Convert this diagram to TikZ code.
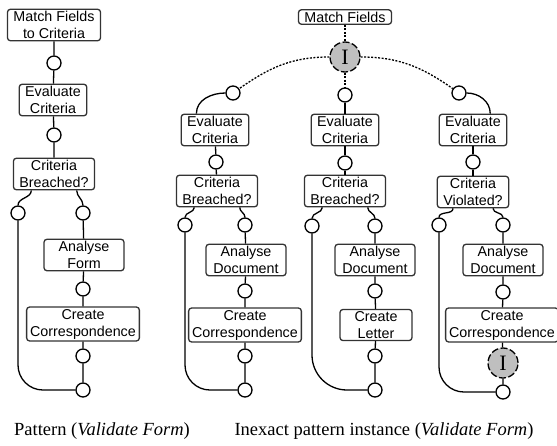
\documentclass[tikz,border=0pt]{standalone}
\usepackage{fontspec}
\setmainfont{Liberation Sans}
\newfontfamily\capfont{Liberation Serif}
\usepackage{tikz}
\usetikzlibrary{calc}

\begin{document}
\begin{tikzpicture}[x=1pt,y=1pt,
  task/.style={draw=black!80, line width=1.3pt, rounded corners=3pt, fill=white, align=center,
    inner xsep=6pt, inner ysep=2pt, font=\fontsize{14.3}{17}\selectfont},
  port/.style={circle, draw, line width=1.3pt, fill=white, minimum size=14pt, inner sep=0pt},
  inst/.style={circle, draw, line width=1.3pt, dash pattern=on 7pt off 2.5pt, fill=black!25,
    minimum size=30pt, inner sep=0pt, font=\capfont\fontsize{22}{22}\selectfont},
  link/.style={line width=1.3pt},
  hint/.style={line width=1.3pt, dash pattern=on 2pt off 1.5pt},
  caption/.style={font=\capfont\fontsize{18.5}{18.5}\selectfont}]
\useasboundingbox (0,0) rectangle (557,-445);

% pattern
\node[task] (mf0) at (54,-25) {Match Fields\\to Criteria};
\node[port] (p1) at (54,-63) {};
\node[task] (ev0) at (53,-100) {Evaluate\\Criteria};
\node[port] (p2) at (54,-135) {};
\node[task] (cb0) at (54,-174) {Criteria\\Breached?};
\node[port] (p3) at (18,-213) {};
\node[port] (p4) at (83,-213) {};
\node[task, minimum width=80pt] (af0) at (84,-255) {Analyse\\Form};
\node[port] (p5) at (83,-289) {};
\node[task, inner xsep=3.5pt] (cc0) at (83,-324) {Create\\Correspondence};
\node[port] (p6) at (83,-356) {};
\node[port] (p7) at (83,-390) {};

\draw[link] (mf0) -- (p1) -- (ev0) -- (p2) -- (cb0);
\draw[link] ($(cb0.south)!0.55!(cb0.south west)$) to[out=-90,in=90] (p3);
\draw[link] ($(cb0.south)!0.55!(cb0.south east)$) to[out=-90,in=90] (p4);
\draw[link] (p4) -- (af0) -- (p5) -- (cc0) -- (p6) -- (p7);
\draw[link, rounded corners=25pt] (p3) |- (p7);

% instance
\node[task] (mf) at (345,-17) {Match Fields};
\node[inst] (i1) at (345,-57) {I};
\node[port] (q1) at (233,-93) {};
\node[port] (r1) at (345,-95) {};
\node[port] (s1) at (459,-93) {};
\draw[hint] (mf) -- (i1) -- (r1);
\draw[hint] (i1) to[out=180,in=35] (q1);
\draw[hint] (i1) to[out=0,in=145] (s1);

% first branch
\node[task] (evA) at (215,-130) {Evaluate\\Criteria};
\node[port] (qa2) at (216,-162) {};
\node[task] (cbA) at (217,-191) {Criteria\\Breached?};
\node[port] (qa3) at (185,-225) {};
\node[port] (qa4) at (245,-225) {};
\node[task, minimum width=80pt] (adA) at (246,-260) {Analyse\\Document};
\node[port] (qa5) at (245,-291) {};
\node[task, inner xsep=3.5pt] (ccA) at (245,-325) {Create\\Correspondence};
\node[port] (qa6) at (245,-356) {};
\node[port] (qa7) at (245,-390) {};

\draw[link] (q1) to[out=180,in=90] ($(evA.north west)!0.23!(evA.north east)$);
\draw[link] (evA) -- (qa2) -- (cbA);
\draw[link] ($(cbA.south)!0.55!(cbA.south west)$) to[out=-90,in=90] (qa3);
\draw[link] ($(cbA.south)!0.55!(cbA.south east)$) to[out=-90,in=90] (qa4);
\draw[link] (qa4) -- (adA) -- (qa5) -- (ccA) -- (qa6) -- (qa7);
\draw[link, rounded corners=25pt] (qa3) |- (qa7);

% second branch
\node[task] (evB) at (345,-130) {Evaluate\\Criteria};
\node[port] (qb2) at (345,-163) {};
\node[task] (cbB) at (345,-191) {Criteria\\Breached?};
\node[port] (qb3) at (312,-226) {};
\node[port] (qb4) at (375,-226) {};
\node[task, minimum width=80pt] (adB) at (375,-260) {Analyse\\Document};
\node[port] (qb5) at (375,-291) {};
\node[task, minimum width=72pt] (clB) at (376,-325) {Create\\Letter};
\node[port] (qb6) at (375,-356) {};
\node[port] (qb7) at (375,-390) {};

\draw[link] (r1) -- (evB) -- (qb2) -- (cbB);
\draw[link] ($(cbB.south)!0.55!(cbB.south west)$) to[out=-90,in=90] (qb3);
\draw[link] ($(cbB.south)!0.55!(cbB.south east)$) to[out=-90,in=90] (qb4);
\draw[link] (qb4) -- (adB) -- (qb5) -- (clB) -- (qb6) -- (qb7);
\draw[link, rounded corners=35pt] (qb3) |- (qb7);

% third branch
\node[task] (evC) at (473,-130) {Evaluate\\Criteria};
\node[port] (qc2) at (473,-162) {};
\node[task] (cvC) at (473,-192) {Criteria\\Violated?};
\node[port] (qc3) at (439,-225) {};
\node[port] (qc4) at (503,-225) {};
\node[task, minimum width=80pt] (adC) at (503,-260) {Analyse\\Document};
\node[port] (qc5) at (503,-292) {};
\node[task, inner xsep=3.5pt] (ccC) at (502,-325) {Create\\Correspondence};
\node[inst] (i2) at (503,-363) {I};
\node[port] (qc7) at (503,-392) {};

\draw[link] (s1) to[out=0,in=90] ($(evC.north west)!0.75!(evC.north east)$);
\draw[link] (evC) -- (qc2) -- (cvC);
\draw[link] ($(cvC.south)!0.55!(cvC.south west)$) to[out=-90,in=90] (qc3);
\draw[link] ($(cvC.south)!0.55!(cvC.south east)$) to[out=-90,in=90] (qc4);
\draw[link] (qc4) -- (adC) -- (qc5) -- (ccC) -- (i2) -- (qc7);
\draw[link, rounded corners=25pt] (qc3) |- (qc7);

\node[caption] (cap1) at (102,-431) {Pattern (\textit{Validate Form})};
\node[caption] (cap2) at (384,-431) {Inexact pattern instance (\textit{Validate Form})};
\end{tikzpicture}
\end{document}
